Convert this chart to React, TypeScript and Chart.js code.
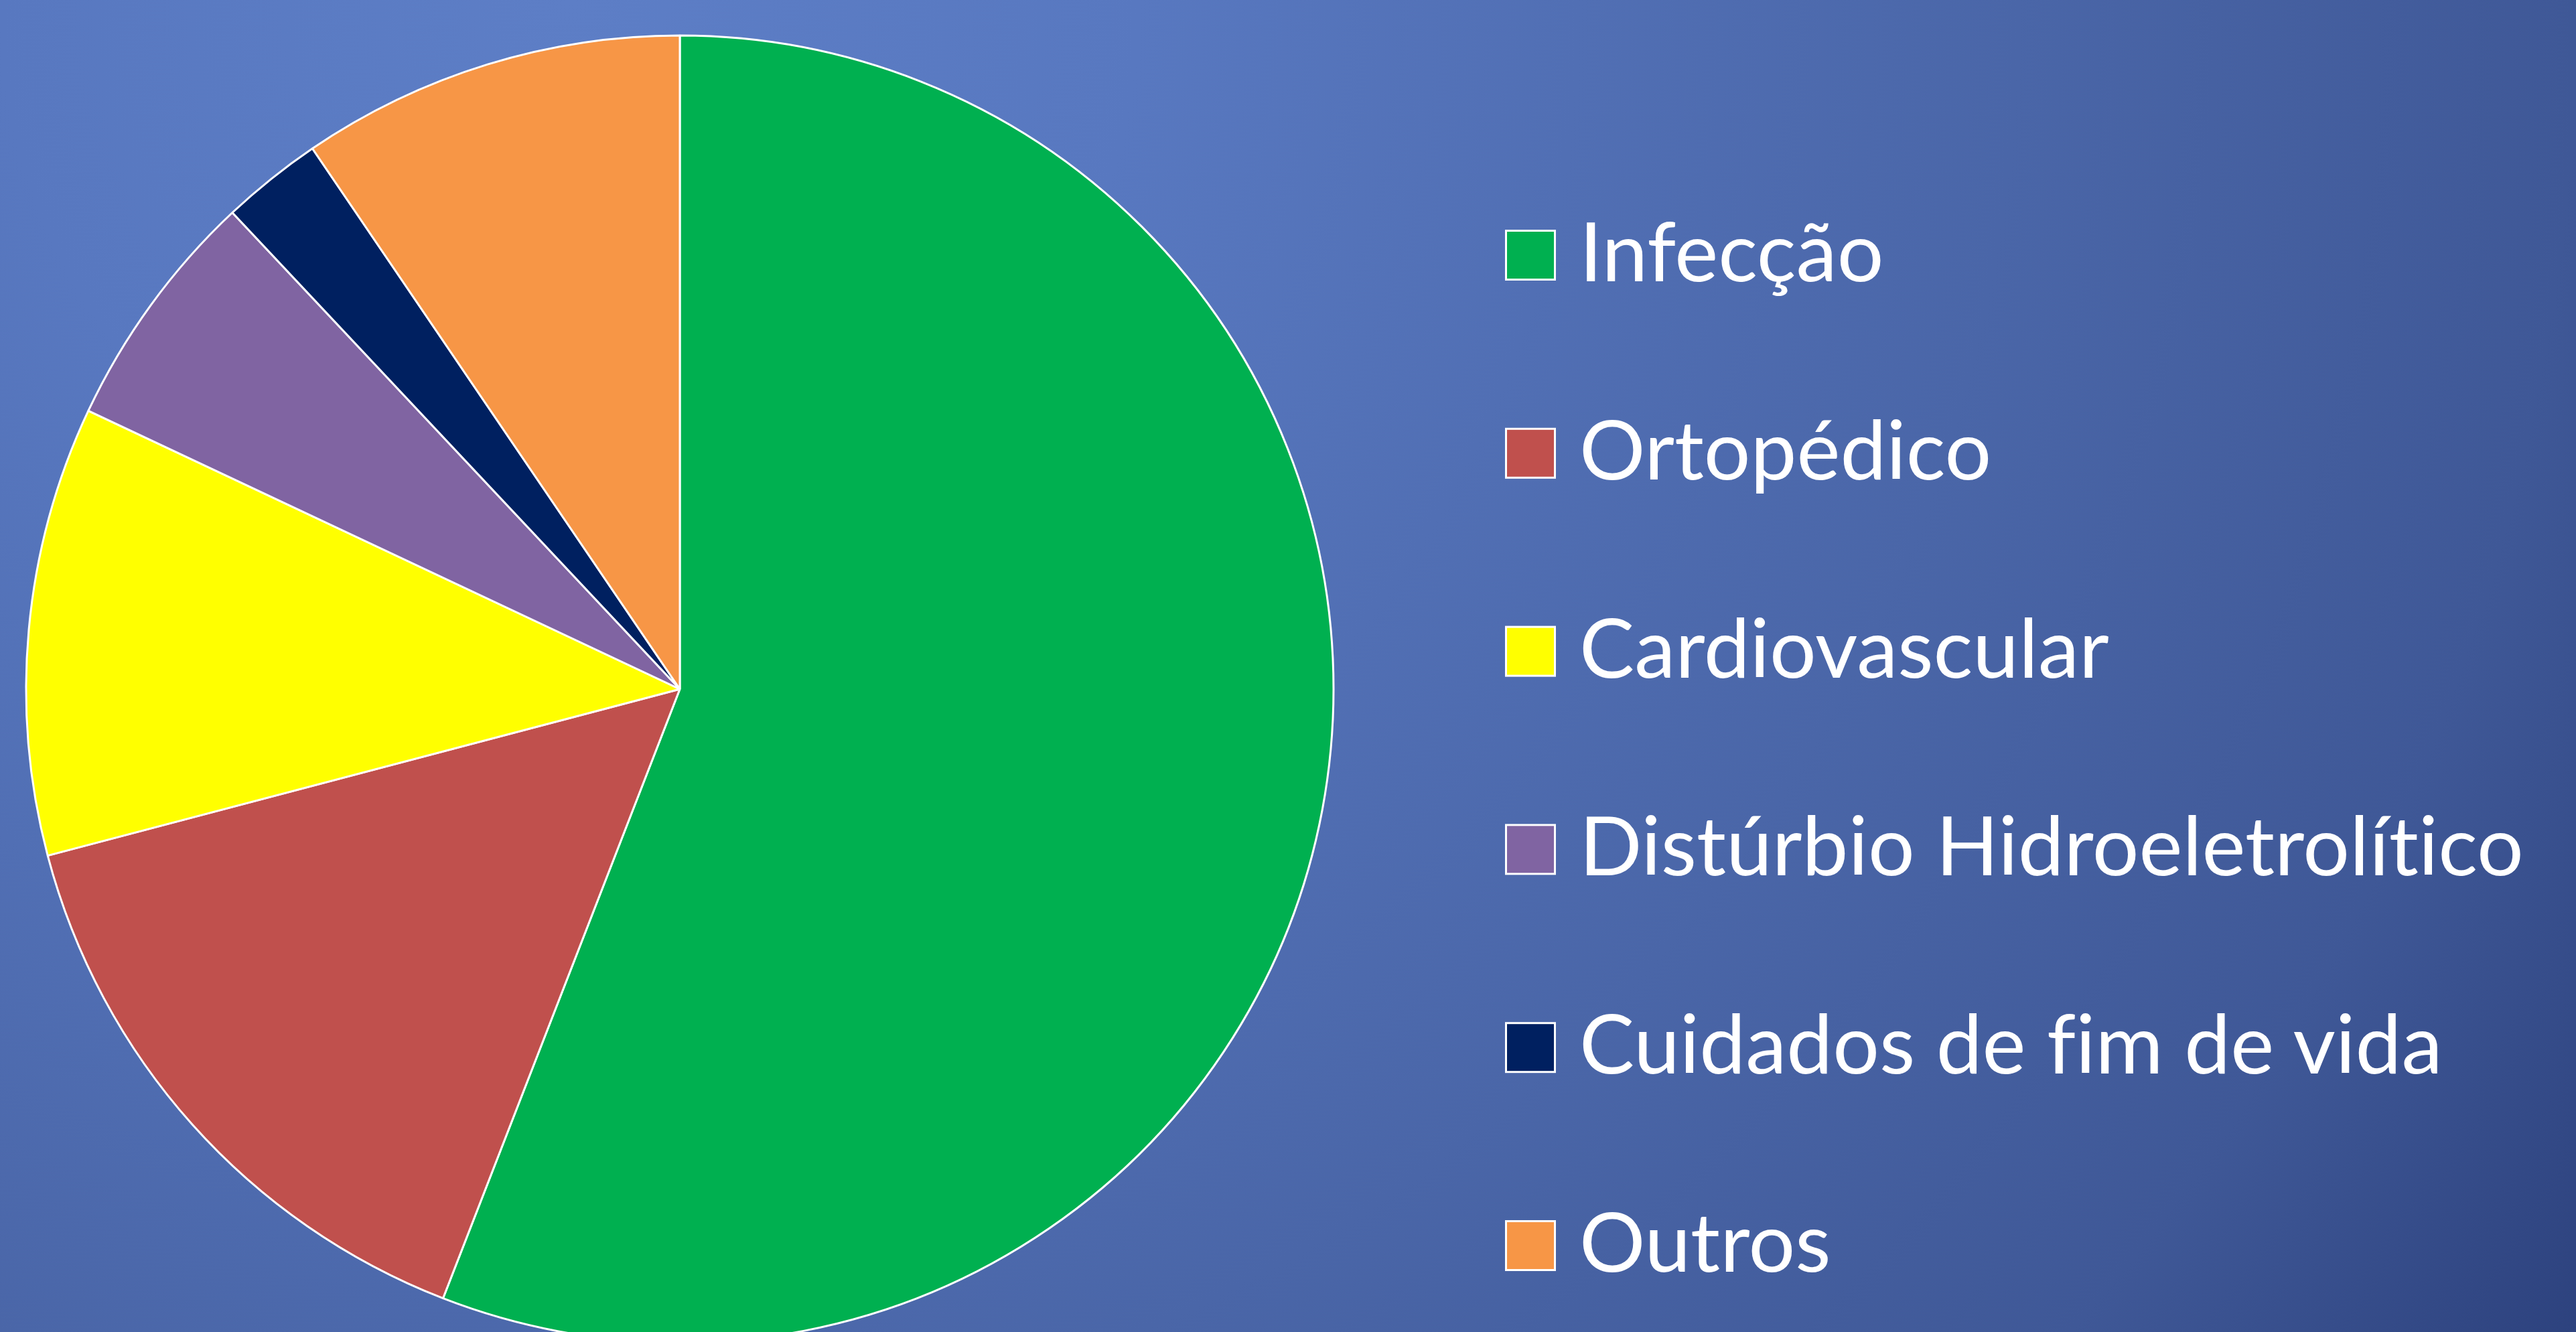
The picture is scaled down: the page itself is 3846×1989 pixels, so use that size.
import React, { useEffect, useRef } from "react";
import { Chart, registerables } from "chart.js";

Chart.register(...registerables);

const categories = [
  "Infecção",
  "Ortopédico",
  "Cardiovascular",
  "Distúrbio Hidroeletrolítico",
  "Cuidados de fim de vida",
  "Outros",
];
const values = [55.9, 15.0, 11.1, 6.0, 2.5, 9.5];
const colors = ["#00B050", "#C0504D", "#FFFF00", "#8064A2", "#002060", "#F79646"];

const W = 3846;
const H = 1989;
const CX = 1015;
const CY = 1029;
const R = 976;

const LEGEND_BOX_X = 2248.5;
const LEGEND_BOX = 73;
const LEGEND_TEXT_X = 2358;
const LEGEND_FIRST_CENTER = 381;
const LEGEND_STEP = 295.8;
const FONT_SIZE = 123;

export default function App() {
  const canvasRef = useRef<HTMLCanvasElement | null>(null);

  useEffect(() => {
    if (!canvasRef.current) return;
    const chart = new Chart(canvasRef.current, {
      type: "pie",
      data: {
        labels: categories,
        datasets: [
          {
            data: values,
            backgroundColor: colors,
            borderColor: "#FFFFFF",
            borderWidth: 3,
          },
        ],
      },
      options: {
        animation: false,
        responsive: true,
        maintainAspectRatio: false,
        radius: R,
        layout: { padding: 0 },
        plugins: {
          legend: { display: false },
          tooltip: { enabled: false },
        },
      },
    });
    return () => chart.destroy();
  }, []);

  return (
    <div
      style={{
        position: "fixed",
        left: 0,
        top: 0,
        width: W,
        height: H,
        overflow: "hidden",
        background:
          "radial-gradient(circle at 850px 0px, #5d7ec6 0px, #5878c0 850px, #4a66a8 2163px, #3f5897 2996px, #2d427e 3600px)",
      }}
    >
      <div
        style={{
          position: "absolute",
          left: CX - 1015,
          top: 0,
          width: 2030,
          height: CY * 2,
        }}
      >
        <canvas ref={canvasRef} />
      </div>
      <svg
        width={W}
        height={H}
        style={{ position: "absolute", left: 0, top: 0 }}
      >
        {categories.map((c, i) => {
          const cy = LEGEND_FIRST_CENTER + i * LEGEND_STEP;
          return (
            <g key={c}>
              <rect
                x={LEGEND_BOX_X}
                y={cy - LEGEND_BOX / 2}
                width={LEGEND_BOX}
                height={LEGEND_BOX}
                fill={colors[i]}
                stroke="#FFFFFF"
                strokeWidth={3}
              />
              <text
                x={LEGEND_TEXT_X}
                y={cy + 39}
                fill="#FFFFFF"
                fontFamily="Lato, 'Open Sans', sans-serif"
                fontSize={FONT_SIZE}
                style={{
                  fontVariantLigatures: "none",
                  fontFeatureSettings: '"liga" 0, "dlig" 0, "clig" 0',
                }}
              >
                {c}
              </text>
            </g>
          );
        })}
      </svg>
    </div>
  );
}
